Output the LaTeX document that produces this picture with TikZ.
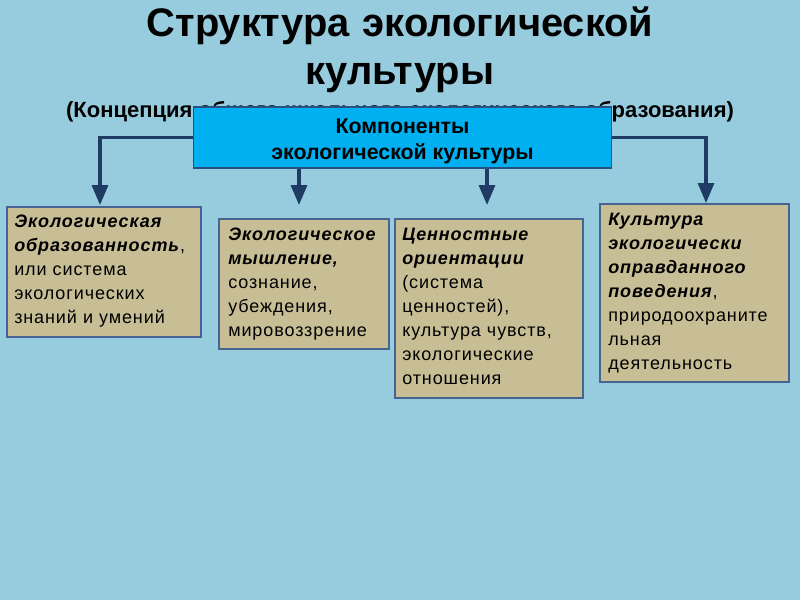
\documentclass[tikz,border=0pt]{standalone}
\usepackage{fontspec}
\setmainfont{Liberation Sans}
\newfontfamily\bodyfont[LetterSpace=5]{Liberation Sans}
\usetikzlibrary{arrows.meta}
\definecolor{bg}{RGB}{150,204,222}
\definecolor{tan}{RGB}{200,190,150}
\definecolor{tanedge}{RGB}{70,100,145}
\definecolor{kbfill}{RGB}{0,176,240}
\definecolor{kbedge}{RGB}{40,80,130}
\definecolor{navy}{RGB}{31,58,99}
\tikzset{
  tanbox/.style={draw=tanedge, line width=1.2pt, fill=tan, anchor=north west, inner sep=0pt},
  boxtext/.style={anchor=base west, inner sep=0pt, text width=180pt, align=left,
     font=\bodyfont\fontsize{13.5}{18}\selectfont},
  conn/.style={draw=navy, line width=2.4pt, -{Triangle[width=12pt,length=15pt]}},
}
\newcommand{\bi}[1]{\textbf{\textit{#1}}}
\begin{document}
\begin{tikzpicture}[x=0.75pt,y=-0.75pt]
\fill[bg] (0,0) rectangle (800,600);
\useasboundingbox (0,0) rectangle (800,600);
% title
\node[anchor=base, inner sep=0pt, text width=525pt, align=center,
  font=\fontsize{29.9}{36.5}\selectfont\bfseries] (title) at (400,36)
  {Структура экологической\\культуры};
\node[anchor=base, inner sep=0pt, font=\fontsize{16.5}{18}\selectfont\bfseries] (sub) at (400,117)
  {(Концепция общего школьного экологического образования)};
% central box
\node[draw=kbedge, line width=0.8pt, fill=kbfill, minimum width=313.5pt, minimum height=45.75pt,
  inner sep=0pt, align=center, font=\fontsize{16}{19.5}\selectfont\bfseries] (kb) at (402.5,137.5)
  {\rule{0pt}{17pt}Компоненты\\экологической культуры};
% tan boxes
\node[tanbox, minimum width=145.5pt, minimum height=97.5pt] (b1) at (6,206) {};
\node[tanbox, minimum width=127.5pt, minimum height=97.5pt] (b2) at (218,218) {};
\node[tanbox, minimum width=141pt, minimum height=134.25pt] (b3) at (394,218) {};
\node[tanbox, minimum width=141.75pt, minimum height=133.5pt] (b4) at (599,203) {};
\node[boxtext] (t1) at (14,227)
  {\bi{Экологическая}\\\bi{образованность}, \\или система\\экологических\\знаний и умений};
\node[boxtext] (t2) at (228,240)
  {\bi{Экологическое}\\\bi{мышление,}\\сознание,\\убеждения,\\мировоззрение};
\node[boxtext] (t3) at (402,240)
  {\bi{Ценностные}\\\bi{ориентации}\\(система\\ценностей),\\культура чувств,\\экологические\\отношения};
\node[boxtext] (t4) at (608,225)
  {\bi{Культура}\\\bi{экологически}\\\bi{оправданного}\\\bi{поведения},\\природоохраните\\льная\\деятельность};
% arrow tips
\coordinate (a1) at (100,205);
\coordinate (a2) at (299,205);
\coordinate (a3) at (487,205);
\coordinate (a4) at (706,203);
\draw[conn] (kb.west) -| (a1);
\draw[conn] (kb.east) -| (a4);
\draw[conn] (kb.south -| a2) -- (a2);
\draw[conn] (kb.south -| a3) -- (a3);
\end{tikzpicture}
\end{document}
